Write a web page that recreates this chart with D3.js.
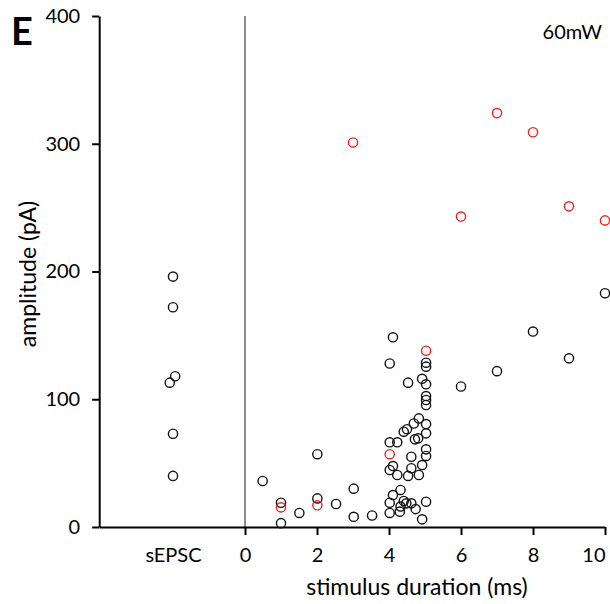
<!DOCTYPE html>
<html><head><meta charset="utf-8">
<script src="https://cdn.jsdelivr.net/npm/d3@7"></script>
<style>body{margin:0;background:#fff}svg{display:block}</style>
</head><body><svg id="c" width="610" height="604"></svg>
<script>
// sEPSC group plotted at x = -2 (label "sEPSC")
const sepscX = [-2, -2, -1.94, -2.09, -2, -2];
const sepscY = [196, 172, 118, 113, 73, 40];

const blackX = [0.49, 1, 1, 1.51, 2.01, 2.01, 2.53, 3.02, 3.02, 3.53,
  4.11, 4.02, 5.03, 5.03, 4.92, 4.53, 5.03, 5.03, 5.03, 5.03,
  4.83, 4.69, 5.03, 4.50, 4.41, 5.03, 4.81, 4.72, 4.02, 4.23,
  5.03, 5.03, 4.62, 4.92, 4.11, 4.02, 4.23, 4.62, 4.53, 4.83,
  4.32, 4.11, 4.02, 4.41, 4.48, 4.62, 4.32, 4.30, 4.74, 5.03,
  4.02, 4.92, 6, 7, 8, 9, 10];
const blackY = [36, 19, 3, 11, 57, 22.4, 18, 30, 8, 9,
  148.5, 128, 128.6, 125.5, 116, 113, 111.7, 102.5, 99.4, 95.5,
  85, 81, 80.6, 76.5, 74.6, 73.3, 69.4, 68.6, 66.3, 66.3,
  60.8, 55.6, 55, 48.5, 47.7, 44.6, 40.7, 46, 40, 40.7,
  29, 25, 19, 20.4, 18.5, 18.5, 16, 12, 14, 19.8,
  11, 6, 110, 122, 153, 132, 183];

const redX = [1, 2.01, 4.02, 5.03, 3.0, 6, 7, 8, 9, 10];
const redY = [15.4, 17, 57, 138, 301, 243, 324, 309, 251, 240];

const xTicks = [-2, 0, 2, 4, 6, 8, 10];
const xTickLabels = ["sEPSC", "0", "2", "4", "6", "8", "10"];
const yTicks = [0, 100, 200, 300, 400];

const FONT = "Lato, 'Open Sans', sans-serif";
const svg = d3.select("#c");
const x = d3.scaleLinear().domain([-4.05, 10]).range([99.2, 605]);
const y = d3.scaleLinear().domain([0, 400]).range([527, 16]);

// zero reference line
svg.append("line").attr("x1", x(0)).attr("x2", x(0)).attr("y1", y(400)).attr("y2", y(0))
  .attr("stroke", "#8f8f8f").attr("stroke-width", 2);

// axes
const xAxis = svg.append("g").attr("transform", `translate(0,${y(0)})`)
  .call(d3.axisBottom(x).tickValues(xTicks).tickFormat((d, i) => xTickLabels[i]).tickSize(8).tickPadding(13).tickSizeOuter(0));
xAxis.selectAll(".tick").filter(d => d === -2).select("line").remove();
xAxis.selectAll(".tick").filter(d => d === 10).select("text").attr("text-anchor", "end").attr("x", 0);
const yAxis = svg.append("g").attr("transform", `translate(${x.range()[0]},0)`)
  .call(d3.axisLeft(y).tickValues(yTicks).tickSize(7).tickPadding(12).tickSizeOuter(0));
[xAxis, yAxis].forEach(g => {
  g.select(".domain").attr("stroke", "#000").attr("stroke-width", 2);
  g.selectAll(".tick line").attr("stroke", "#000").attr("stroke-width", 2);
  g.selectAll(".tick text").attr("font-family", FONT).attr("font-size", 20).attr("fill", "#000");
});

// points
const drawPts = (xs, ys, color) => {
  svg.append("g").selectAll("circle").data(xs.map((v, i) => [v, ys[i]])).join("circle")
    .attr("cx", d => x(d[0])).attr("cy", d => y(d[1])).attr("r", 4.6)
    .attr("fill", "none").attr("stroke", color).attr("stroke-width", 1.4);
};
drawPts(sepscX, sepscY, "#111");
drawPts(blackX, blackY, "#111");
drawPts(redX, redY, "#f02020");

// labels
svg.append("text").attr("x", 417).attr("y", 595).attr("text-anchor", "middle")
  .attr("font-family", FONT).attr("font-size", 23).text("stimulus duration (ms)");
svg.append("text").attr("transform", "translate(36,274) rotate(-90)").attr("text-anchor", "middle")
  .attr("font-family", FONT).attr("font-size", 23).text("amplitude (pA)");
svg.append("text").attr("x", 11).attr("y", 45).attr("font-family", FONT).attr("font-weight", "bold")
  .attr("font-size", 38).text("E");
svg.append("text").attr("x", 602).attr("y", 39).attr("text-anchor", "end")
  .attr("font-family", FONT).attr("font-size", 20).text("60mW");
</script></body></html>
